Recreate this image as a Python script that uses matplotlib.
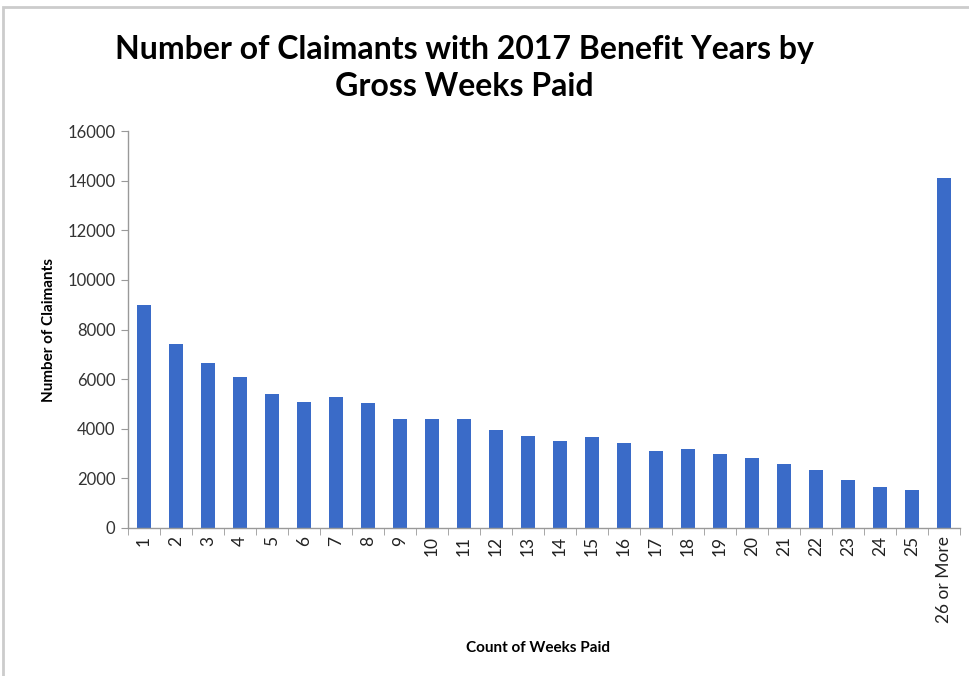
"""
Claimants with 2017 benefit years, by gross weeks paid
"""

import matplotlib
matplotlib.use("Agg")
from matplotlib import pyplot as plt
from matplotlib.patches import Rectangle

# Data
weeks = [str(i) for i in range(1, 26)] + ["26 or More"]
claimants = [9000, 7430, 6650, 6100, 5390, 5080, 5270, 5040, 4400, 4400,
             4400, 3930, 3710, 3500, 3650, 3410, 3120, 3190, 2980, 2820,
             2570, 2320, 1940, 1640, 1530, 14100]
y_ticks = [0, 2000, 4000, 6000, 8000, 10000, 12000, 14000, 16000]

plt.rcParams["font.family"] = ["Lato", "DejaVu Sans"]

fig = plt.figure(figsize=(9.7, 6.76), dpi=100)
ax = fig.add_axes([128 / 970, 1 - 528 / 676, 832 / 970, 397 / 676])

x = list(range(len(weeks)))
ax.bar(x, claimants, width=0.42, color="#3A6BC8")

ax.set_xlim(-0.5, len(weeks) - 0.5)
ax.set_ylim(0, 16000)
ax.set_yticks(y_ticks)
ax.set_yticklabels([str(v) for v in y_ticks], fontsize=12, color="#333333")

# category labels at bar centres, tick marks between categories (Excel style)
ax.set_xticks(x)
ax.set_xticklabels(weeks, rotation=90, fontsize=12.5, color="#222222")
ax.tick_params(axis="x", length=0, pad=6)
ax.set_xticks([i - 0.5 for i in range(len(weeks) + 1)], minor=True)
ax.tick_params(axis="x", which="minor", length=5, color="#999999", direction="out")
ax.tick_params(axis="y", length=5, color="#999999", direction="out", pad=4)

for s in ["top", "right"]:
    ax.spines[s].set_visible(False)
for s in ["left", "bottom"]:
    ax.spines[s].set_color("#999999")
    ax.spines[s].set_linewidth(1)

ax.set_ylabel("Number of Claimants", fontsize=11, fontweight="bold", labelpad=8)
fig.text(0.555, 1 - 648 / 676, "Count of Weeks Paid", fontsize=11, fontweight="bold",
         ha="center", va="center")

fig.text(0.479, 1 - 68 / 676, "Number of Claimants with 2017 Benefit Years by\nGross Weeks Paid",
         fontsize=23, fontweight="bold", ha="center", va="center", linespacing=1.3)

# faint frame of the original screenshot
fig.patches.append(Rectangle((0.003, -0.01), 1.1, 1.0, transform=fig.transFigure,
                             fill=False, edgecolor="#cccccc", linewidth=2))

plt.savefig("out.png", dpi=100)
